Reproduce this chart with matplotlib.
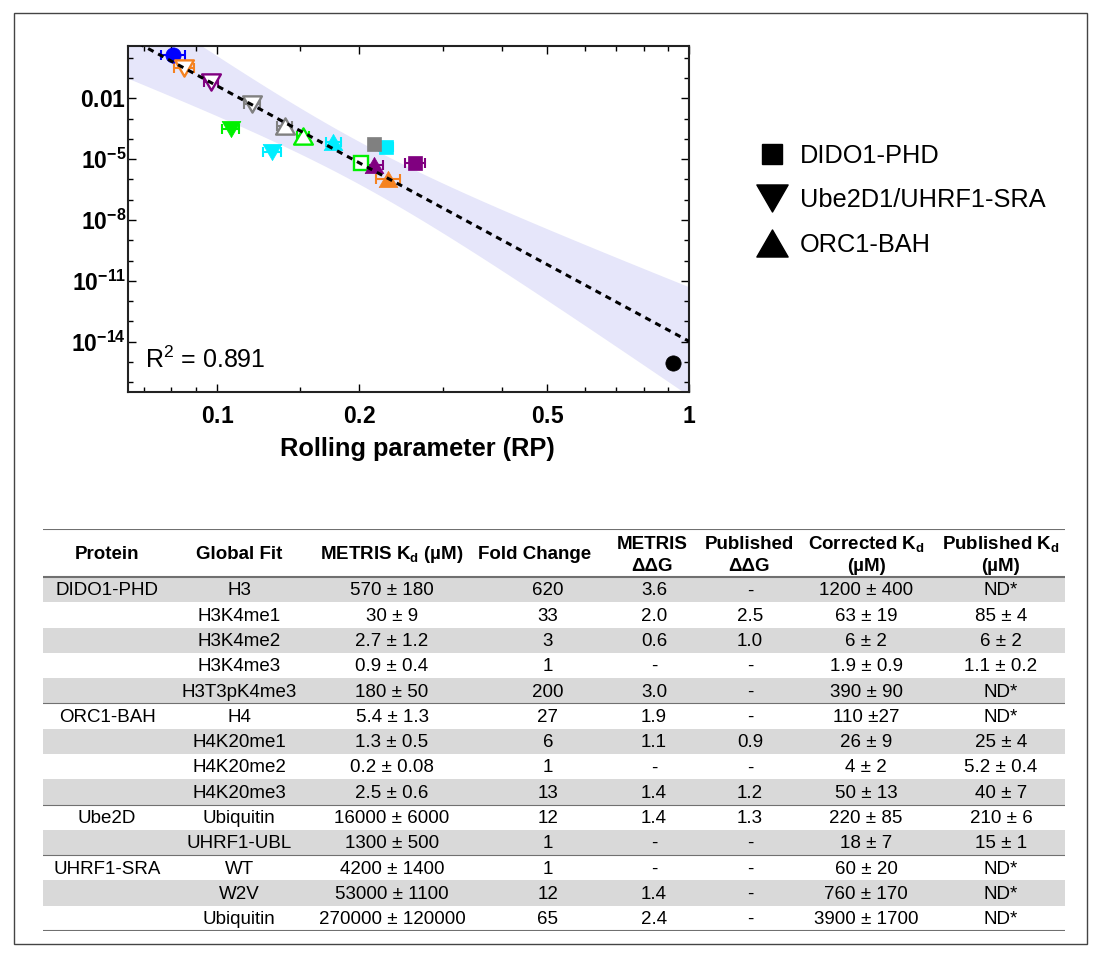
import numpy as np
import matplotlib
matplotlib.use("Agg")
import matplotlib.pyplot as plt
from matplotlib.lines import Line2D
from matplotlib.patches import Rectangle
from matplotlib.path import Path
from matplotlib.ticker import FixedLocator, FuncFormatter, NullFormatter

plt.rcParams["font.family"] = ["Liberation Sans", "DejaVu Sans"]
plt.rcParams["mathtext.fontset"] = "custom"
plt.rcParams["mathtext.rm"] = "Liberation Sans"
plt.rcParams["mathtext.it"] = "Liberation Sans:italic"
plt.rcParams["mathtext.bf"] = "Liberation Sans:bold"

# ---- scatter data: rolling parameter vs Kd ----
rp = [0.0807, 0.0851, 0.0970, 0.1186, 0.1391, 0.1522, 0.1068, 0.1308,
      0.1762, 0.2278, 0.2148, 0.2013, 0.2148, 0.2624, 0.2304, 0.921]
kd = [1.36, 0.301, 0.0659, 5.24e-3, 4.3e-4, 1.38e-4, 2.96e-4, 2.33e-5,
      7.2e-5, 3.8e-5, 5.6e-5, 6.7e-6, 5.1e-6, 6.7e-6, 1.0e-6, 9.2e-16]
rp_err = [0.0047, 0.0042, 0.0034, 0.0044, 0.0050, 0.0045, 0.0046, 0.0057,
          0.0065, 0.0075, 0.0020, 0.0050, 0.0097, 0.0130, 0.0134, 0.0]
marker_kind = ["circle", "down", "down", "down", "up", "up", "down", "down",
               "up", "square", "square", "square", "up", "square", "up", "circle"]
point_color = ["#0000FF", "#F58220", "#800080", "#808080", "#808080", "#00F000",
               "#00F000", "#00EEFF", "#00EEFF", "#00EEFF", "#808080", "#00F000",
               "#800080", "#800080", "#F58220", "#000000"]
hollow = [False, True, True, True, True, True, False, False,
          False, False, False, True, False, False, False, False]

# confidence band around the log-log fit (half width in decades)
band_center_rp = 0.198
band_min_halfwidth = 1.05
band_growth = 3.52
r_squared_text = "0.891"

legend_labels = ["DIDO1-PHD", "Ube2D1/UHRF1-SRA", "ORC1-BAH"]
legend_kinds = ["square", "down", "up"]

# ---- table ----
headers = ["Protein", "Global Fit", r"METRIS K$_\mathbf{d}$ (µM)", "Fold Change",
           "METRIS\nΔΔG", "Published\nΔΔG", "Corrected K$_\mathbf{d}$\n(µM)",
           "Published K$_\mathbf{d}$\n(µM)"]
protein = ["DIDO1-PHD", "", "", "", "", "ORC1-BAH", "", "", "", "Ube2D", "",
           "UHRF1-SRA", "", ""]
global_fit = ["H3", "H3K4me1", "H3K4me2", "H3K4me3", "H3T3pK4me3", "H4", "H4K20me1",
              "H4K20me2", "H4K20me3", "Ubiquitin", "UHRF1-UBL", "WT", "W2V", "Ubiquitin"]
metris_kd = ["570 ± 180", "30 ± 9", "2.7 ± 1.2", "0.9 ± 0.4", "180 ± 50", "5.4 ± 1.3",
             "1.3 ± 0.5", "0.2 ± 0.08", "2.5 ± 0.6", "16000 ± 6000", "1300 ± 500",
             "4200 ± 1400", "53000 ± 1100", "270000 ± 120000"]
fold_change = ["620", "33", "3", "1", "200", "27", "6", "1", "13", "12", "1", "1", "12", "65"]
metris_ddg = ["3.6", "2.0", "0.6", "-", "3.0", "1.9", "1.1", "-", "1.4", "1.4", "-", "-",
              "1.4", "2.4"]
published_ddg = ["-", "2.5", "1.0", "-", "-", "-", "0.9", "-", "1.2", "1.3", "-", "-", "-", "-"]
corrected_kd = ["1200 ± 400", "63 ± 19", "6 ± 2", "1.9 ± 0.9", "390 ± 90", "110 ±27",
                "26 ± 9", "4 ± 2", "50 ± 13", "220 ± 85", "18 ± 7", "60 ± 20",
                "760 ± 170", "3900 ± 1700"]
published_kd = ["ND*", "85 ± 4", "6 ± 2", "1.1 ± 0.2", "ND*", "ND*", "25 ± 4", "5.2 ± 0.4",
                "40 ± 7", "210 ± 6", "15 ± 1", "ND*", "ND*", "ND*"]

# marker shapes (equilateral triangles like Mathematica)
TRI_UP = Path([(-1, -0.866), (1, -0.866), (0, 0.866), (0, 0)], closed=True)
TRI_DOWN = Path([(-1, 0.866), (1, 0.866), (0, -0.866), (0, 0)], closed=True)
MARKERS = {"circle": ("o", 11), "square": ("s", 10.5), "up": (TRI_UP, 13.5),
           "down": (TRI_DOWN, 13.5)}

fig = plt.figure(figsize=(11, 9.58), dpi=100)
ax = fig.add_axes([0.1166, 0.5905, 0.5102, 0.3615])

x_lo, x_hi = 0.0648, 1.0
ax.set_xscale("log")
ax.set_yscale("log")
ax.set_xlim(x_lo, x_hi)
ax.set_ylim(10 ** -16.5, 10 ** 0.58)

# straight-line fit in log-log space
slope, intercept = np.polyfit(np.log10(rp), np.log10(kd), 1)
xs = np.logspace(np.log10(x_lo), np.log10(x_hi), 400)
t = np.log10(xs)
mid = intercept + slope * t
half = np.sqrt(band_min_halfwidth ** 2 + (band_growth * (t - np.log10(band_center_rp))) ** 2)
ax.fill_between(xs, 10 ** (mid - half), 10 ** (mid + half), color="#E6E6FA", lw=0, zorder=1)
ax.plot(xs, 10 ** mid, color="black", lw=2.2, dashes=(2.0, 1.7), zorder=5)

for x, y, err, kind, c, h in zip(rp, kd, rp_err, marker_kind, point_color, hollow):
    if err > 0:
        ax.errorbar(x, y, xerr=err, fmt="none", ecolor=c, elinewidth=1.5,
                    capsize=3.8, capthick=1.5, zorder=3)
    m, size = MARKERS[kind]
    ax.plot(x, y, ls="none", marker=m, ms=size, mfc="white" if h else c, mec=c,
            mew=1.7 if h else 0.5, zorder=4)

ax.text(0.03, 0.093, r"R$^2$ = " + r_squared_text, transform=ax.transAxes,
        fontsize=18, va="center", ha="left")

# ticks
ax.xaxis.set_major_locator(FixedLocator([0.1, 0.2, 0.5, 1.0]))
ax.xaxis.set_minor_locator(FixedLocator([0.07, 0.08, 0.09, 0.15, 0.3, 0.4, 0.6, 0.7, 0.8, 0.9]))
ax.xaxis.set_major_formatter(FuncFormatter(lambda v, p: r"$\mathbf{%g}$" % v))
ax.xaxis.set_minor_formatter(NullFormatter())
ax.yaxis.set_major_locator(FixedLocator([1e-2, 1e-5, 1e-8, 1e-11, 1e-14]))
ax.yaxis.set_minor_locator(FixedLocator([10.0 ** e for e in range(-16, 1)]))


def ylab(v, pos):
    e = int(round(np.log10(v)))
    if e == -2:
        return r"$\mathbf{0.01}$"
    return r"$\mathbf{10^{%d}}$" % e


ax.yaxis.set_major_formatter(FuncFormatter(ylab))
ax.yaxis.set_minor_formatter(NullFormatter())
ax.tick_params(which="both", direction="in", top=True, right=True, labelsize=16.5)
ax.tick_params(which="major", length=6, width=1)
ax.tick_params(which="minor", length=3.5, width=1)
ax.tick_params(axis="x", pad=9)
ax.tick_params(axis="y", pad=1.5)
for s in ax.spines.values():
    s.set_linewidth(1.5)
    s.set_color("#222222")

ax.set_xlabel("Rolling parameter (RP)", fontsize=18.3, fontweight="bold")
ax.xaxis.set_label_coords(0.516, -0.164)
ax.xaxis.label.set_va("center")

# legend on the right
handles = []
for kind in legend_kinds:
    m = {"square": "s", "up": TRI_UP, "down": TRI_DOWN}[kind]
    size = 14.5 if kind == "square" else 22.5
    handles.append(Line2D([], [], ls="none", marker=m, ms=size, color="black"))
fig.legend(handles, legend_labels, loc="upper left", bbox_to_anchor=(0.6903, 0.8502),
           frameon=False, fontsize=18.3, handlelength=1.0, handletextpad=0.6,
           labelspacing=0.815, borderpad=0, borderaxespad=0)

# ---- table ----
n_rows = len(global_fit)
header_rows = 1.898
tax = fig.add_axes([43 / 1100, 27 / 958, 1022 / 1100, 402 / 958])
tax.set_xlim(43, 1065)
tax.set_ylim(n_rows, -header_rows)
tax.axis("off")

col_x = [107, 239, 392, 548, 654, 750, 866, 1001]
head_x = [107, 239, 392, 535, 652, 749, 866, 1001]
columns = [protein, global_fit, metris_kd, fold_change, metris_ddg, published_ddg,
           corrected_kd, published_kd]
fs_table = 13.5

for i in range(n_rows):
    if i % 2 == 0:
        tax.axhspan(i, i + 1, color="#D9D9D9", lw=0, zorder=0)
    for cx, col in zip(col_x, columns):
        tax.text(cx, i + 0.55, col[i], ha="center", va="center", fontsize=fs_table)

for hx, head in zip(head_x, headers):
    lines = head.split("\n")
    if len(lines) == 1:
        tax.text(hx, -header_rows / 2 + 0.05, lines[0], ha="center", va="center",
                 fontsize=fs_table, fontweight="bold")
    else:
        tax.text(hx, -1.30, lines[0], ha="center", va="center", fontsize=fs_table,
                 fontweight="bold")
        tax.text(hx, -0.43, lines[1], ha="center", va="center", fontsize=fs_table,
                 fontweight="bold")

for yline in (-header_rows, 0, n_rows):
    tax.axhline(yline, color="#707070", lw=1.5)
for i, name in enumerate(protein):
    if name and i > 0:
        tax.axhline(i, color="#707070", lw=0.8)

fig.add_artist(Rectangle((14 / 1100, 14 / 958), 1073 / 1100, 931 / 958,
                         transform=fig.transFigure, fill=False, ec="#444444", lw=1.0))

fig.savefig("out.png", dpi=100)
